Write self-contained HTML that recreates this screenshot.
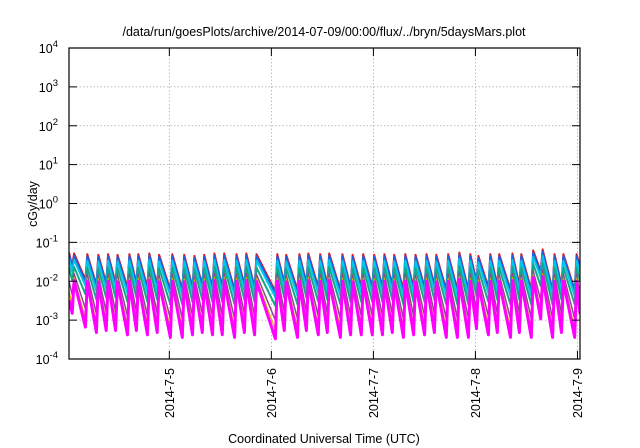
<!DOCTYPE html>
<html><head><meta charset="utf-8">
<style>
html,body{margin:0;padding:0;background:#fff;}
svg{display:block;font-family:"Liberation Sans",sans-serif;}
</style></head>
<body>
<svg id="chart" width="640" height="448" viewBox="0 0 640 448" xmlns="http://www.w3.org/2000/svg">
<text x="324" y="36" font-size="12.5" text-anchor="middle" fill="#000">/data/run/goesPlots/archive/2014-07-09/00:00/flux/../bryn/5daysMars.plot</text>
<text transform="translate(37,204) rotate(-90)" font-size="12.5" text-anchor="middle" fill="#000">cGy/day</text>
<text x="324" y="443" font-size="12.5" text-anchor="middle" fill="#000">Coordinated Universal Time (UTC)</text>
<g id="grid"></g>
<g id="series"></g>
<g id="axes"></g>
</svg>
<script>
// data
const yTickExps = [-4,-3,-2,-1,0,1,2,3,4];
const xTickHours = [24,48,72,96,120];
const xTickLabels = ["2014-7-5","2014-7-6","2014-7-7","2014-7-8","2014-7-9"];
// peak times (hours since 2014-07-04 00:00)
const peakHours = [1.6,4.7,7.3,9.6,11.8,14.6,16.7,19.3,21.6,24.7,27.5,29.9,32.2,34.6,36.9,39.8,42.1,44.5,49.4,51.5,54.6,56.7,59.5,61.6,64.7,67.1,69.6,72.2,74.6,76.9,79.5,81.9,84.5,86.8,89.6,92.2,94.8,96.7,99.5,101.6,104.7,106.8,109.6,111.8,114.6,116.7,119.8];
// top series peak values (cGy/day)
const peakTop = [0.052,0.05,0.048,0.05,0.048,0.05,0.05,0.052,0.048,0.05,0.048,0.045,0.048,0.052,0.052,0.05,0.052,0.05,0.05,0.048,0.05,0.052,0.05,0.052,0.05,0.048,0.05,0.048,0.05,0.048,0.05,0.048,0.05,0.048,0.05,0.055,0.05,0.045,0.05,0.05,0.052,0.05,0.062,0.066,0.05,0.05,0.05];
// top series value just before the next rise
const troughTop = [0.011,0.008,0.009,0.009,0.007,0.009,0.007,0.008,0.006,0.006,0.007,0.008,0.007,0.007,0.006,0.008,0.007,0.0055,0.009,0.006,0.009,0.007,0.008,0.006,0.007,0.007,0.007,0.007,0.008,0.006,0.007,0.007,0.008,0.006,0.006,0.006,0.01,0.007,0.008,0.006,0.008,0.006,0.018,0.006,0.008,0.006,0.008];
const startValue = 0.025;
const endHour = 120.6;
// series: name, colour, peak ratio, trough ratio, width
const seriesNames = ["red","blue","cyan","teal","purple","yellow","magenta"];
const seriesColors = ["#e41a1c","#1f5fe0","#00c8e8","#13a88a","#8a4a8a","#d4b000","#ff00ff"];
const peakRatio = [1.0,0.88,0.68,0.45,0.3,0.24,0.2];
const troughRatio = [1.0,0.9,0.7,0.42,0.18,0.1,0.06];
const lineWidths = [2,2,2,2,1.5,1.2,3];

const L=69,R=580,T=48,B=359;
const X0=0.4,X1=120.6;
function xs(h){return L+(h-X0)/(X1-X0)*(R-L);}
function ys(v){return B-(Math.log10(v)+4)/8*(B-T);}
const NS="http://www.w3.org/2000/svg";
function el(tag,attrs,parent){const e=document.createElementNS(NS,tag);for(const k in attrs)e.setAttribute(k,attrs[k]);parent.appendChild(e);return e;}
const grid=document.getElementById('grid'),axes=document.getElementById('axes'),ser=document.getElementById('series');

yTickExps.forEach(p=>{
  const y=ys(Math.pow(10,p));
  if(p>-4&&p<4){const g=el('line',{x1:L,x2:R,y1:y,y2:y,stroke:'#aaa','stroke-width':0.8,'stroke-dasharray':'1.5,2'},grid);
  
  }
  const t1=el('line',{x1:L,x2:L+8,y1:y,y2:y,stroke:'#000','stroke-width':1},axes);
  
  
  const t2=el('line',{x1:R,x2:R-8,y1:y,y2:y,stroke:'#000','stroke-width':1},axes);
  
  
  const tx=el('text',{x:L-11,y:y+5,'font-size':12.5,'text-anchor':'end',fill:'#000'},axes);
  
  
  tx.appendChild(document.createTextNode('10'));
  const sp=el('tspan',{dy:-6,'font-size':9.5},tx);sp.textContent=String(p);
});
xTickHours.forEach((h,i)=>{
  const x=xs(h);
  const g=el('line',{x1:x,x2:x,y1:T,y2:B,stroke:'#aaa','stroke-width':0.8,'stroke-dasharray':'1.5,2'},grid);
  
  
  const t1=el('line',{x1:x,x2:x,y1:B,y2:B-8,stroke:'#000','stroke-width':1},axes);
  
  
  const t2=el('line',{x1:x,x2:x,y1:T,y2:T+8,stroke:'#000','stroke-width':1},axes);
  
  
  const tx=el('text',{transform:`translate(${x+4.5},368) rotate(-90)`,'font-size':12.5,'text-anchor':'end',fill:'#000'},axes);
  
  
  tx.textContent=xTickLabels[i];
});
const frame=el('rect',{x:L,y:T,width:R-L,height:B-T,fill:'none',stroke:'#000','stroke-width':1.2},axes);



const clip=el('clipPath',{id:'pc'},document.getElementById('chart'));
el('rect',{x:L,y:T,width:R-L,height:B-T},clip);
ser.setAttribute('clip-path','url(#pc)');

seriesNames.forEach((nm,s)=>{
  const pts=[];
  pts.push([X0,startValue*troughRatio[s]*2.2]);
  for(let i=0;i<peakHours.length;i++){
    const pre=(i===0)?startValue*troughRatio[s]:troughTop[i-1]*troughRatio[s];
    pts.push([peakHours[i]-0.45,pre]);
    pts.push([peakHours[i],peakTop[i]*peakRatio[s]]);
  }
  pts.push([endHour,troughTop[troughTop.length-1]*troughRatio[s]*3]);
  const d=pts.map((p,j)=>(j?'L':'M')+xs(p[0]).toFixed(1)+','+ys(p[1]).toFixed(1)).join('');
  const pth=el('path',{d:d,fill:'none',stroke:seriesColors[s],'stroke-width':lineWidths[s],'stroke-linejoin':'round'},ser);
  
  
});
</script>
</body></html>
